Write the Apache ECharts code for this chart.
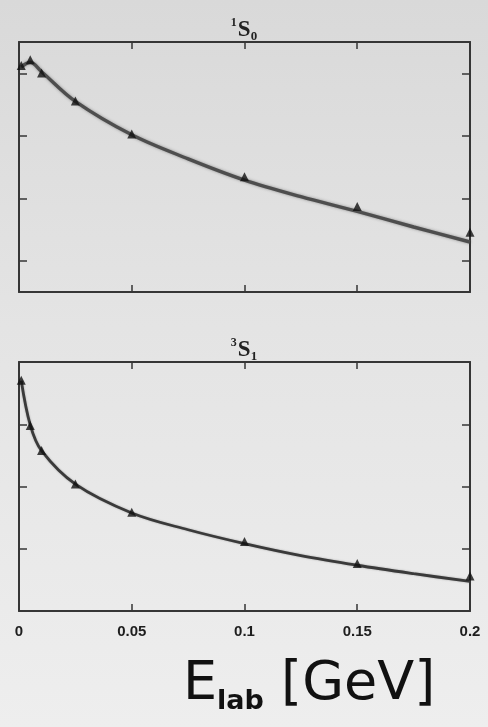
<!DOCTYPE html>
<html>
<head>
<meta charset="utf-8">
<script src="https://cdn.jsdelivr.net/npm/echarts@6/dist/echarts.min.js"></script>
<style>
  html, body { margin: 0; padding: 0; }
  body { background: linear-gradient(#d9d9d9, #e4e4e4 45%, #eeeeee 100%); }
  #chart { width: 488px; height: 727px; }
</style>
</head>
<body>
<div id="chart"></div>
<script>
// Lab energies (GeV) of the phase-shift data points
const energies = [0.001, 0.005, 0.01, 0.025, 0.05, 0.1, 0.15, 0.2];
// 1S0 phase shifts (deg)
const s0Points = [62.5, 64.3, 60.1, 51.1, 40.6, 26.9, 17.4, 9.1];
// 3S1 phase shifts (deg)
const s1Points = [148.3, 119.2, 103.1, 81.6, 63.5, 44.6, 30.6, 22.5];

// Model curves sampled along the energy axis
const curveE = [0.001, 0.005, 0.01, 0.025, 0.05, 0.075, 0.1, 0.125, 0.15, 0.175, 0.2];
const s0Curve = [62.0, 63.5, 60.5, 51.0, 40.3, 32.6, 25.8, 20.5, 15.8, 10.8, 6.0];
const s1Curve = [148.0, 119.5, 103.0, 81.5, 63.0, 52.2, 43.3, 35.6, 29.4, 24.0, 19.0];

// Axis ticks
const xTicks = [0, 0.05, 0.1, 0.15, 0.2];
const s0Ticks = [0, 20, 40, 60];
const s1Ticks = [40, 80, 120];

const pairs = (xs, ys) => xs.map((x, i) => [x, ys[i]]);

const frame = '#363636';
const grids = [
  { left: 19, right: 18, top: 42, height: 250 },
  { left: 19, right: 18, top: 362, height: 249 }
];

function xAxes(gi, labels) {
  const base = {
    type: 'value', gridIndex: gi, min: xTicks[0], max: xTicks[xTicks.length - 1], interval: 0.05,
    axisLine: { show: true, onZero: false, lineStyle: { color: frame, width: 2 } },
    axisTick: { show: true, inside: true, length: 7, lineStyle: { color: frame, width: 1.5 } },
    splitLine: { show: false }
  };
  return [
    Object.assign({}, base, {
      position: 'bottom',
      axisLabel: labels ? {
        show: true, margin: 13, color: '#1e1e1e', fontSize: 15, fontWeight: 'bold',
        fontFamily: 'Liberation Sans', formatter: v => String(+v.toFixed(2))
      } : { show: false }
    }),
    Object.assign({}, base, { position: 'top', axisLabel: { show: false } })
  ];
}

function yAxes(gi, min, max, ticks) {
  const base = {
    type: 'value', gridIndex: gi, min: min, max: max,
    axisLine: { show: true, onZero: false, lineStyle: { color: frame, width: 2 } },
    axisTick: { show: true, inside: true, length: 8, customValues: ticks, lineStyle: { color: frame, width: 1.5 } },
    axisLabel: { show: false },
    splitLine: { show: false }
  };
  return [
    Object.assign({}, base, { position: 'left' }),
    Object.assign({}, base, { position: 'right' })
  ];
}

const titleRich = {
  sup: { fontFamily: 'Liberation Serif', fontSize: 12, color: '#222', verticalAlign: 'top', lineHeight: 14, padding: [0, 1, 0, 0] },
  s: { fontFamily: 'Liberation Serif', fontSize: 23, color: '#222', lineHeight: 26 },
  sub: { fontFamily: 'Liberation Serif', fontSize: 13, color: '#222', verticalAlign: 'bottom', lineHeight: 14 }
};

const chart = echarts.init(document.getElementById('chart'), null, { renderer: 'canvas' });
chart.setOption({
  backgroundColor: 'transparent',
  animation: false,
  title: [
    { text: '{sup|1}{s|S}{sub|0}', left: 'center', top: 12, textStyle: { rich: titleRich } },
    { text: '{sup|3}{s|S}{sub|1}', left: 'center', top: 332, textStyle: { rich: titleRich } }
  ],
  graphic: [{
    type: 'text', left: 183, top: 658,
    style: {
      text: '{e|E}{l|lab}{r| [GeV]}',
      rich: {
        e: { fontFamily: 'DejaVu Sans', fontSize: 54, fill: '#111', lineHeight: 60 },
        l: { fontFamily: 'DejaVu Sans', fontSize: 27, fontWeight: 'bold', fill: '#111', verticalAlign: 'bottom', lineHeight: 30 },
        r: { fontFamily: 'DejaVu Sans', fontSize: 54, fill: '#111', lineHeight: 60 }
      }
    }
  }],
  grid: grids,
  xAxis: [...xAxes(0, false), ...xAxes(1, true)],
  yAxis: [...yAxes(0, -10, 70, s0Ticks), ...yAxes(1, 0, 160, s1Ticks)],
  series: [
    {
      name: '1S0 model', type: 'line', xAxisIndex: 0, yAxisIndex: 0,
      data: pairs(curveE, s0Curve), smooth: 0.35, showSymbol: false,
      lineStyle: { color: '#4e4e4e', width: 3.4, shadowColor: 'rgba(60,60,60,0.5)', shadowBlur: 3 }, z: 2
    },
    {
      name: '1S0 data', type: 'scatter', xAxisIndex: 0, yAxisIndex: 0,
      data: pairs(energies, s0Points), symbol: 'triangle', symbolSize: 9,
      itemStyle: { color: '#111' }, z: 3
    },
    {
      name: '3S1 model', type: 'line', xAxisIndex: 2, yAxisIndex: 2,
      data: pairs(curveE, s1Curve), smooth: 0.35, showSymbol: false,
      lineStyle: { color: '#3a3a3a', width: 2.8, shadowColor: 'rgba(60,60,60,0.4)', shadowBlur: 2 }, z: 2
    },
    {
      name: '3S1 data', type: 'scatter', xAxisIndex: 2, yAxisIndex: 2,
      data: pairs(energies, s1Points), symbol: 'triangle', symbolSize: 9,
      itemStyle: { color: '#111' }, z: 3
    }
  ]
});
</script>
</body>
</html>
